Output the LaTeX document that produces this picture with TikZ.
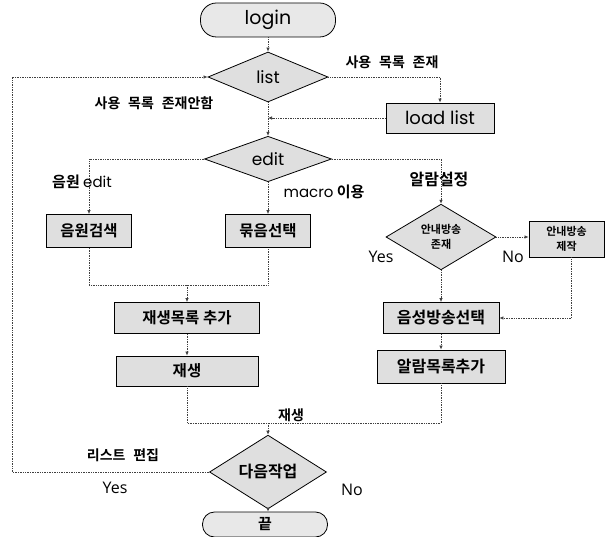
\documentclass[tikz,border=0pt]{standalone}
\usepackage{fontspec}
\usetikzlibrary{shapes.geometric,arrows.meta}
\newfontfamily\kr{Noto Sans CJK KR Bold}
\newfontfamily\lat{Poppins}
\newfontfamily\yn{Open Sans}
\begin{document}
\begin{tikzpicture}[x=1pt,y=-1pt,
  box/.style={draw, line width=0.8pt, fill=gray!25, inner sep=0pt, align=center,
              font=\kr\fontsize{15.5}{17}\selectfont},
  dia/.style={draw, line width=0.8pt, fill=gray!25, diamond, inner sep=0pt, align=center},
  term/.style={draw, line width=0.8pt, fill=gray!18, inner sep=0pt},
  conn/.style={densely dotted, line width=0.7pt, draw=black!75},
  arr/.style={conn, -{Latex[length=4pt,width=3.5pt]}},
  lab/.style={inner sep=0pt, font=\kr\fontsize{14}{16}\selectfont},
  ynlab/.style={inner sep=0pt, font=\yn\fontsize{16}{18}\selectfont}]
\useasboundingbox (0,0) rectangle (607,537);

% nodes
\node[term, rounded corners=16pt, minimum width=135pt, minimum height=34pt,
      font=\lat\fontsize{19}{22}\selectfont] (login) at (268,20) {login};
\node[dia, minimum width=120pt, minimum height=50pt,
      font=\lat\fontsize{17}{20}\selectfont] (list) at (268,77) {list};
\node[box, minimum width=108pt, minimum height=30pt,
      font=\lat\fontsize{18}{20}\selectfont] (load) at (440,118) {load list};
\node[dia, minimum width=127pt, minimum height=44pt,
      font=\lat\fontsize{17}{20}\selectfont] (edit) at (268,159) {edit};
\node[box, minimum width=85pt, minimum height=33pt] (search) at (89,231) {음원검색};
\node[box, minimum width=85pt, minimum height=33pt] (bundle) at (268,231) {묶음선택};
\node[dia, minimum width=110pt, minimum height=53pt,
      font=\kr\fontsize{11}{15}\selectfont] (exist) at (441,237) {안내방송\\존재};
\node[box, minimum width=75pt, minimum height=36pt,
      font=\kr\fontsize{11}{15}\selectfont] (make) at (566.5,239) {안내방송\\제작};
\node[box, minimum width=145pt, minimum height=31pt] (addplay) at (187,318) {재생목록 추가};
\node[box, minimum width=142pt, minimum height=30pt] (play) at (187,371) {재생};
\node[box, minimum width=116pt, minimum height=31pt,
      font=\kr\fontsize{16}{18}\selectfont] (voice) at (441,318) {음성방송선택};
\node[box, minimum width=128pt, minimum height=33pt,
      font=\kr\fontsize{16}{18}\selectfont] (alarm) at (441,366.5) {알람목록추가};
\node[dia, minimum width=117pt, minimum height=47pt,
      font=\kr\fontsize{16}{18}\selectfont] (next) at (268,472) {다음작업};
\node[term, rounded corners=12pt, minimum width=125pt, minimum height=25pt,
      font=\kr\fontsize{15}{17}\selectfont] (end) at (265,524.5) {끝};

% connectors
\draw[arr] (login.south) -- (list.north);
\draw[arr] (list.east) -| (load.north);
\draw[arr] (list.south) -- (edit.north);
\draw[arr] (load.west) -- (load.west -| list.south);
\draw[arr] (edit.west) -| (search.north);
\draw[arr] (edit.south) -- (bundle.north);
\draw[arr] (edit.east) -| (exist.north);
\draw[arr] (exist.east) -- (exist.east -| make.west);
\draw[arr] ([xshift=5pt]make.south) |- (voice.east);
\draw[arr] (exist.south) -- (voice.north);
\draw[arr] (voice.south) -- (alarm.north);
\coordinate (m1) at (187,285);
\draw[conn] (search.south) |- (bundle.south |- m1) -- (bundle.south);
\draw[arr] (m1) -- (addplay.north);
\draw[arr] (addplay.south) -- (play.north);
\coordinate (m2) at (268,423);
\draw[conn] (play.south) |- (alarm.south |- m2) -- (alarm.south);
\draw[arr] (m2) -- (next.north);
\draw[arr] (next.south) -- (next.south |- end.north);
\coordinate (lp) at (12,0);
\draw[arr] (next.west) -| (lp |- list.west) -- (list.west);

% labels
\node[lab] (l1) at (392,62) {사용\,\, 목록\,\, 존재};
\node[lab] (l2) at (154,103) {사용\,\, 목록\,\, 존재안함};
\node[lab, font=\kr\fontsize{15}{17}\selectfont] (l3) at (82,182) {음원 {\lat edit}};
\node[lab, font=\kr\fontsize{15}{17}\selectfont] (l4) at (324,192) {{\lat macro} 이용};
\node[lab, font=\kr\fontsize{16}{18}\selectfont] (l5) at (439,180) {알람설정};
\node[ynlab] (y1) at (381,257) {Yes};
\node[ynlab] (n1) at (513,257) {No};
\node[lab] (l6) at (291,415) {재생};
\node[lab] (l7) at (123,455) {리스트\,\, 편집};
\node[ynlab] (y2) at (115,488) {Yes};
\node[ynlab] (n2) at (352,490) {No};
\end{tikzpicture}
\end{document}
